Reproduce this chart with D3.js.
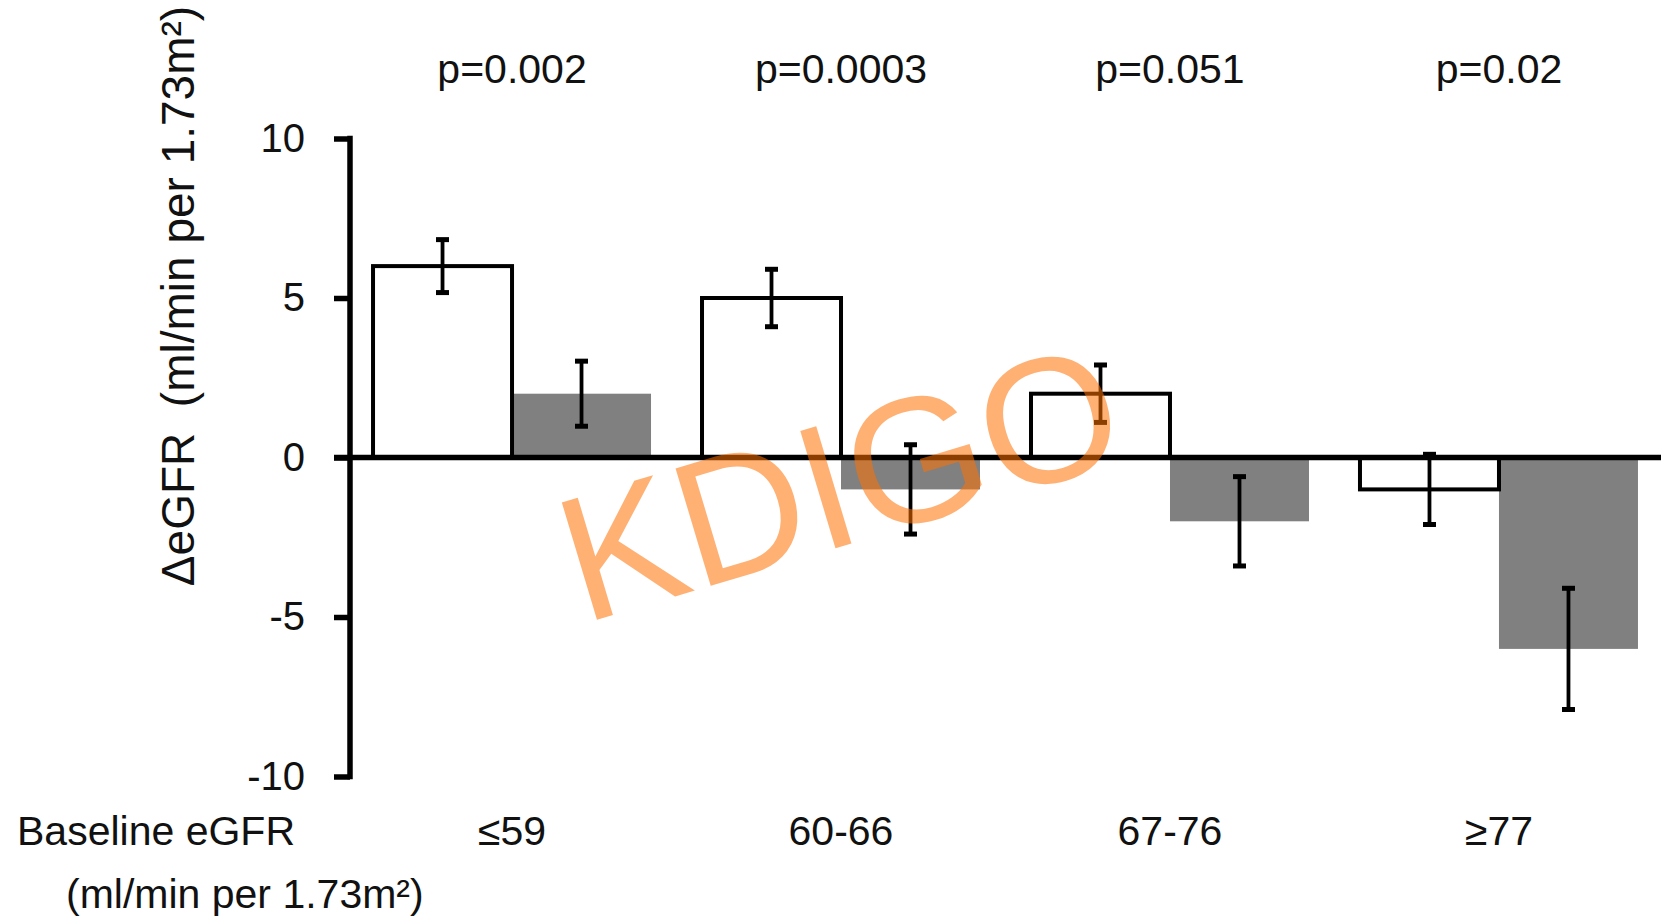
<!DOCTYPE html>
<html>
  <head>
    <meta charset='utf-8'>
    <style>
      body { margin: 0; background: #fff; }
      text { font-family: "Liberation Sans", Arial, sans-serif; fill: #111; }
    </style>
  </head>

  <body>
    <div id="chart"></div>
    <script src="https://cdn.jsdelivr.net/npm/d3@7/dist/d3.min.js"></script>

    <script type="text/javascript">

      // --------------------------- data --------------------------
      var categories = ["≤59", "60-66", "67-76", "≥77"];
      var pValues = ["p=0.002", "p=0.0003", "p=0.051", "p=0.02"];
      var series = ["white", "gray"];
      var whiteMean = [6, 5, 2, -1];
      var whiteErr = [0.83, 0.9, 0.9, 1.1];
      var grayMean = [2, -1, -2, -6];
      var grayErr = [1.02, 1.4, 1.4, 1.9];
      var yTicks = [-10, -5, 0, 5, 10];

      // --------------------------- layout --------------------------
      var width = 1661, height = 917;
      var axisX = 350, yTop = 138.5, yBottom = 776.5;

      var svg = d3.select("#chart")
        .append("svg")
        .attr("width", width)
        .attr("height", height);

      var x0 = d3.scaleBand()
        .domain(categories)
        .range([axisX, width])
        .paddingInner(0.155)
        .paddingOuter(0.07);

      var x1 = d3.scaleBand()
        .domain(series)
        .range([0, x0.bandwidth()]);

      var y = d3.scaleLinear()
        .domain([-10, 10])
        .range([yBottom, yTop]);

      var rows = categories.map(function(c, i) {
        return [
          {cat: c, s: "white", v: whiteMean[i], e: whiteErr[i]},
          {cat: c, s: "gray", v: grayMean[i], e: grayErr[i]}
        ];
      });
      var flat = [].concat.apply([], rows);

      var g = svg.append("g");

      // gray bars first, white bars (with outline) on top
      g.selectAll(".bar-gray")
        .data(flat.filter(function(d){ return d.s == "gray"; }))
        .enter().append("rect")
        .attr("class", "bar-gray")
        .attr("x", function(d){ return x0(d.cat) + x1(d.s); })
        .attr("width", x1.bandwidth())
        .attr("y", function(d){ return y(Math.max(0, d.v)); })
        .attr("height", function(d){ return Math.abs(y(d.v) - y(0)); })
        .attr("fill", "#808080");

      g.selectAll(".bar-white")
        .data(flat.filter(function(d){ return d.s == "white"; }))
        .enter().append("rect")
        .attr("class", "bar-white")
        .attr("x", function(d){ return x0(d.cat) + x1(d.s); })
        .attr("width", x1.bandwidth())
        .attr("y", function(d){ return y(Math.max(0, d.v)); })
        .attr("height", function(d){ return Math.abs(y(d.v) - y(0)); })
        .attr("fill", "#fff")
        .attr("stroke", "#000")
        .attr("stroke-width", 4);

      // y axis
      var yAxis = d3.axisLeft(y)
        .tickValues(yTicks)
        .tickSize(16)
        .tickPadding(29)
        .tickFormat(function(d){ return String(d); });

      var ya = g.append("g")
        .attr("transform", "translate(" + axisX + ",0)")
        .call(yAxis);
      ya.select(".domain").remove();
      ya.selectAll(".tick line").attr("stroke", "#000").attr("stroke-width", 5.5);
      ya.selectAll(".tick text")
        .attr("font-size", 40)
        .attr("font-family", "Liberation Sans, Arial, sans-serif")
        .attr("fill", "#111");

      g.append("line")
        .attr("x1", axisX).attr("x2", axisX)
        .attr("y1", y(10) - 2.75).attr("y2", y(-10) + 2.75)
        .attr("stroke", "#000").attr("stroke-width", 5.5);

      // zero line
      g.append("line")
        .attr("x1", axisX - 16).attr("x2", width)
        .attr("y1", y(0)).attr("y2", y(0))
        .attr("stroke", "#000").attr("stroke-width", 5.5);

      // error bars
      var eb = g.selectAll(".err")
        .data(flat)
        .enter().append("g")
        .attr("class", "err")
        .attr("transform", function(d){
          return "translate(" + (x0(d.cat) + x1(d.s) + x1.bandwidth() / 2) + ",0)";
        });
      eb.append("line")
        .attr("y1", function(d){ return y(d.v + d.e); })
        .attr("y2", function(d){ return y(d.v - d.e); })
        .attr("stroke", "#000").attr("stroke-width", 3.8);
      eb.append("line")
        .attr("x1", -6.5).attr("x2", 6.5)
        .attr("y1", function(d){ return y(d.v + d.e); })
        .attr("y2", function(d){ return y(d.v + d.e); })
        .attr("stroke", "#000").attr("stroke-width", 5);
      eb.append("line")
        .attr("x1", -6.5).attr("x2", 6.5)
        .attr("y1", function(d){ return y(d.v - d.e); })
        .attr("y2", function(d){ return y(d.v - d.e); })
        .attr("stroke", "#000").attr("stroke-width", 5);

      // p values above groups
      g.selectAll(".pval")
        .data(categories)
        .enter().append("text")
        .attr("class", "pval")
        .attr("x", function(d){ return x0(d) + x0.bandwidth() / 2; })
        .attr("y", 83)
        .attr("text-anchor", "middle")
        .attr("font-size", 41)
        .text(function(d, i){ return pValues[i]; });

      // category labels
      g.selectAll(".cat")
        .data(categories)
        .enter().append("text")
        .attr("class", "cat")
        .attr("x", function(d){ return x0(d) + x0.bandwidth() / 2; })
        .attr("y", 845)
        .attr("text-anchor", "middle")
        .attr("font-size", 41)
        .text(function(d){ return d; });

      g.append("text")
        .attr("x", 17).attr("y", 845)
        .attr("font-size", 41)
        .text("Baseline eGFR");
      g.append("text")
        .attr("x", 66).attr("y", 908)
        .attr("font-size", 41)
        .text("(ml/min per 1.73m²)");

      // y title
      g.append("text")
        .attr("transform", "translate(194,296) rotate(-90)")
        .attr("text-anchor", "middle")
        .attr("font-size", 46)
        .style("white-space", "pre")
        .text("ΔeGFR  (ml/min per 1.73m²)");

      // watermark
      svg.append("text")
        .attr("transform", "translate(583,624) rotate(-16.7)")
        .attr("font-size", 178)
        .style("fill", "#ff7000")
        .style("fill-opacity", 0.55)
        .text("KDIGO");

  </script>
  </body>
</html>
